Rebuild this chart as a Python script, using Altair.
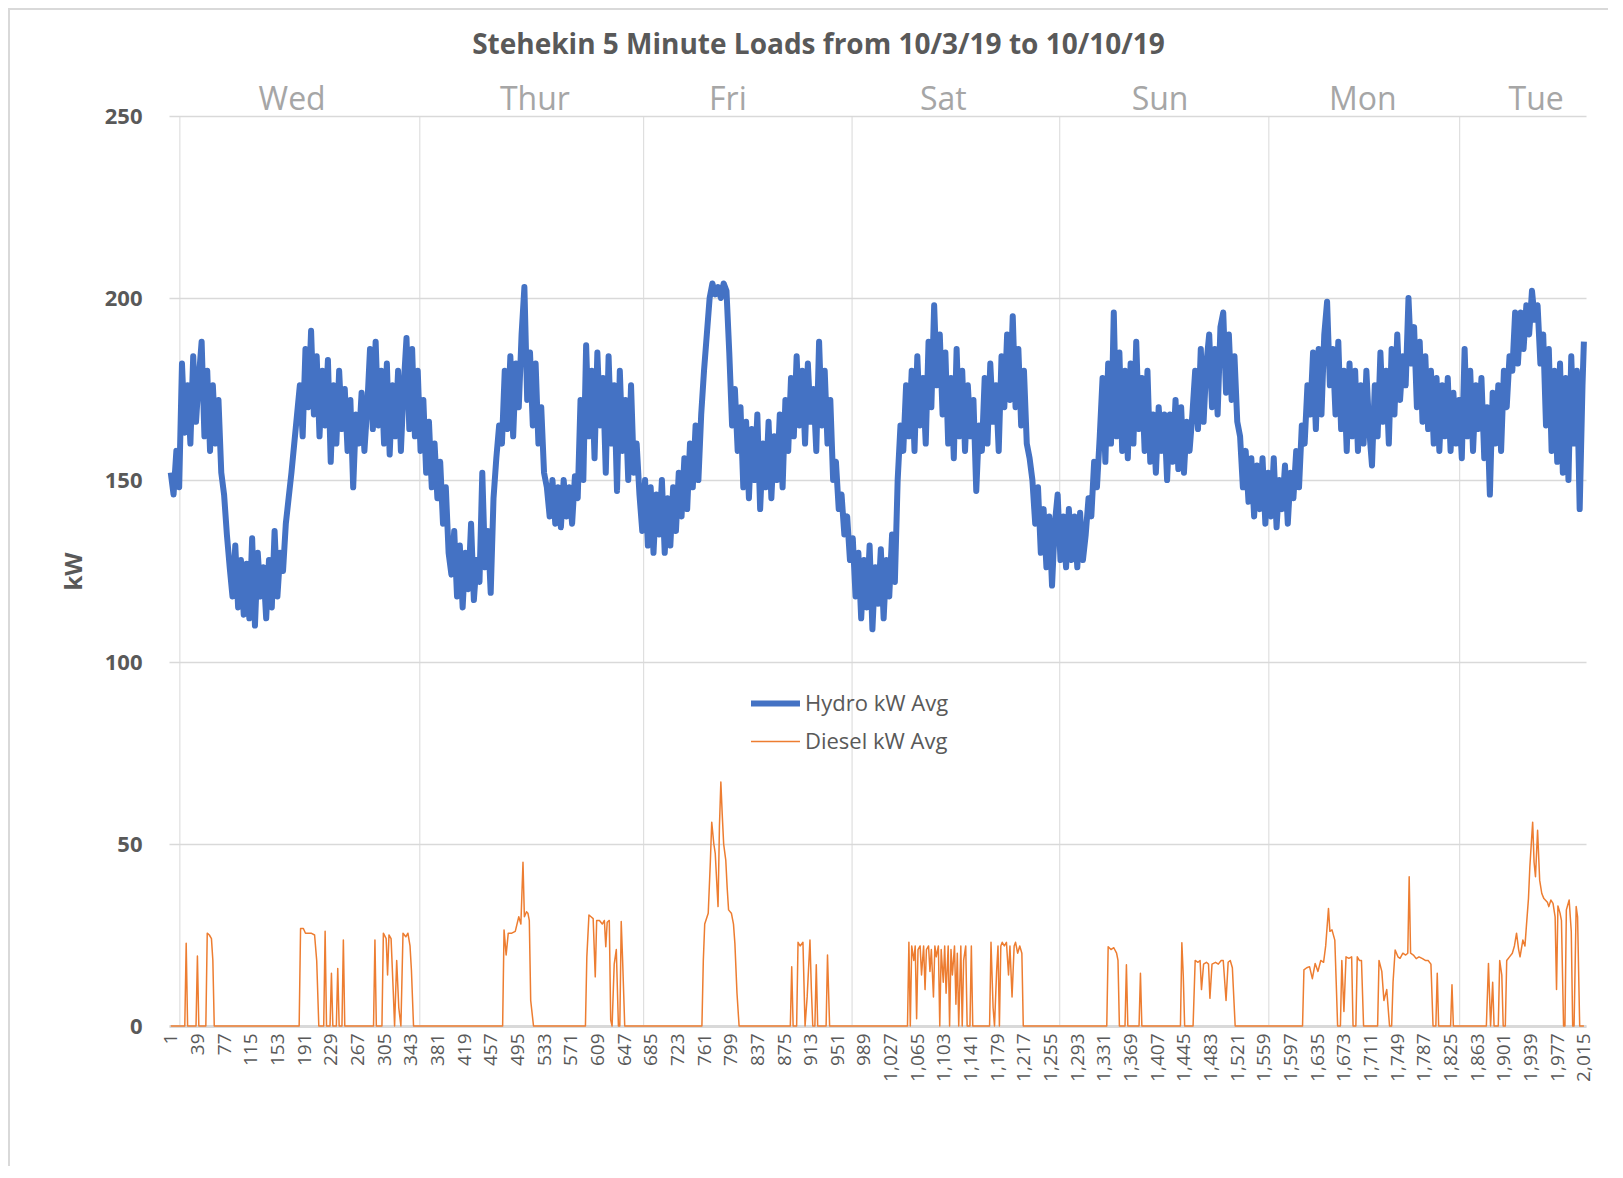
import altair as alt
import pandas as pd

title_text = "Stehekin 5 Minute Loads from 10/3/19 to 10/10/19"
series_names = ["Hydro kW Avg", "Diesel kW Avg"]
series_colors = ["#4472C4", "#ED7D31"]
series_widths = [6, 1.5]

hydro_idx = list(range(1, 2014, 4)) + [2015]
hydro_kw = [
    152, 146, 158, 148, 182, 163, 176, 160, 184, 166,
    178, 188, 162, 180, 158, 176, 160, 172, 152, 146,
    135, 126, 118, 132, 115, 128, 113, 127, 112, 134,
    110, 130, 118, 126, 112, 128, 115, 136, 118, 130,
    125, 138, 145, 152, 160, 168, 176, 162, 186, 170,
    191, 168, 184, 162, 180, 165, 183, 155, 176, 160,
    180, 164, 175, 158, 172, 148, 168, 160, 174, 158,
    170, 186, 164, 188, 165, 180, 160, 182, 157, 176,
    162, 180, 158, 176, 189, 164, 186, 162, 180, 158,
    172, 152, 166, 148, 160, 145, 155, 138, 148, 130,
    124, 136, 118, 132, 115, 130, 120, 138, 117, 128,
    122, 152, 126, 136, 119, 145, 156, 165, 160, 180,
    164, 184, 162, 182, 170, 190, 203, 172, 185, 165,
    182, 160, 170, 152, 148, 140, 150, 138, 148, 137,
    150, 140, 148, 138, 151, 145, 172, 150, 187, 162,
    180, 156, 185, 165, 178, 152, 184, 160, 176, 147,
    180, 158, 172, 150, 176, 152, 160, 146, 136, 150,
    132, 148, 130, 146, 135, 150, 130, 145, 132, 148,
    136, 152, 140, 156, 142, 160, 148, 165, 150, 168,
    180, 190, 200, 204, 201, 203, 200, 204, 202, 185,
    165, 175, 158, 170, 148, 166, 145, 164, 150, 168,
    142, 160, 148, 166, 145, 162, 150, 168, 148, 172,
    158, 178, 162, 184, 165, 180, 160, 182, 166, 175,
    158, 188, 165, 180, 160, 172, 150, 155, 142, 146,
    135, 140, 128, 134, 118, 130, 112, 128, 115, 132,
    109, 126, 116, 131, 112, 128, 118, 135, 122, 150,
    165, 158, 176, 162, 180, 158, 184, 165, 178, 160,
    188, 170, 198, 176, 190, 168, 185, 160, 178, 156,
    186, 162, 180, 158, 176, 162, 172, 147, 165, 158,
    178, 160, 182, 166, 176, 158, 184, 170, 190, 172,
    195, 170, 186, 165, 180, 160, 156, 150, 138, 148,
    130, 142, 126, 140, 121, 138, 146, 128, 140, 126,
    142, 128, 140, 126, 141, 128, 135, 145, 140, 155,
    148, 162, 178, 155, 182, 160, 196, 162, 185, 158,
    180, 156, 182, 160, 188, 164, 178, 158, 180, 155,
    168, 152, 170, 158, 168, 150, 168, 155, 172, 153,
    170, 152, 166, 158, 168, 180, 164, 186, 166, 182,
    190, 170, 186, 168, 192, 196, 174, 190, 172, 184,
    166, 162, 148, 158, 144, 156, 140, 154, 142, 156,
    138, 152, 140, 156, 137, 150, 142, 154, 138, 152,
    145, 158, 148, 165, 160, 176, 168, 185, 164, 186,
    168, 190, 199, 176, 186, 168, 188, 164, 180, 158,
    182, 162, 180, 158, 176, 160, 180, 164, 154, 176,
    162, 185, 166, 180, 160, 186, 168, 190, 172, 184,
    176, 200, 182, 192, 170, 188, 166, 184, 164, 180,
    160, 178, 158, 176, 162, 178, 158, 174, 160, 172,
    156, 186, 162, 180, 158, 176, 164, 178, 156, 170,
    146, 174, 160, 176, 158, 180, 170, 184, 180, 196,
    182, 196, 186, 198, 190, 202, 194, 198, 182, 190,
    165, 186, 158, 180, 155, 182, 152, 178, 150, 184,
    160, 180, 142, 176,
    188,
]

# Diesel: (interval, kW) break points
diesel_points = [
    (1, 0), (21, 0), (23, 22.7), (25, 0),
    (37, 0), (39, 19.2), (41, 0),
    (51, 0), (53, 25.5), (56, 25), (59, 24), (61, 18), (63, 0),
    (184, 0), (186, 26.8), (190, 26.8), (193, 25.5), (201, 25.5), (206, 25), (209, 18), (212, 0),
    (219, 0), (221, 26), (223, 0), (228, 0), (230, 14.5), (232, 0), (237, 0), (239, 15.8), (241, 0),
    (245, 0), (247, 23.6), (249, 0),
    (290, 0), (292, 23.6), (294, 0), (302, 0), (304, 25.5), (308, 24), (310, 14), (312, 25), (315, 24),
    (318, 10), (320, 0), (323, 18), (326, 5), (329, 0), (332, 25.5), (336, 24.5), (339, 25.5),
    (342, 22), (344, 15.4), (347, 0),
    (474, 0), (476, 26.4), (479, 19.5), (482, 25.5), (487, 25.5), (492, 26), (497, 30), (500, 28),
    (503, 45), (505, 30), (508, 31.4), (510, 31), (512, 29), (514, 7), (518, 0),
    (592, 0), (594, 19), (597, 30.5), (600, 30), (603, 29.5), (606, 13.5), (608, 29), (612, 29),
    (616, 28), (619, 29), (621, 21.8), (623, 28.5), (626, 29), (628, 1.6), (630, 0), (633, 17),
    (636, 21), (639, 0), (641, 0), (643, 28.7), (645, 18), (648, 0),
    (758, 0), (760, 18), (762, 28), (767, 31), (770, 45), (772, 56), (775, 50), (777, 47.4),
    (779, 40), (781, 32.8), (783, 55), (785, 67), (787, 58), (789, 50), (791, 47), (792, 45.6),
    (794, 38), (796, 31.9), (800, 31), (803, 28), (805, 22.7), (808, 9), (811, 0),
    (884, 0), (886, 16.3), (888, 0), (893, 0), (895, 23), (898, 22), (902, 23), (905, 0), (908, 8),
    (912, 23.6), (914, 10), (916, 0), (919, 0), (921, 16.8), (923, 0), (935, 0), (937, 19.5), (940, 0),
    (1051, 0), (1053, 23), (1055, 0), (1057, 22), (1060, 18), (1062, 22), (1064, 2), (1066, 21),
    (1069, 22), (1071, 14), (1074, 22), (1076, 10), (1078, 21), (1081, 22), (1083, 15), (1085, 21),
    (1088, 8), (1090, 22), (1092, 19), (1095, 22), (1097, 0), (1099, 21), (1102, 12), (1104, 22),
    (1106, 9), (1109, 22), (1111, 0), (1113, 21), (1115, 14), (1118, 22), (1120, 6), (1122, 20),
    (1124, 0), (1127, 22), (1129, 0), (1131, 18), (1134, 22), (1136, 0), (1140, 0), (1142, 22), (1144, 0),
    (1168, 0), (1170, 23), (1173, 5), (1175, 0), (1178, 15), (1180, 22), (1182, 0), (1184, 22),
    (1186, 23), (1189, 22), (1192, 23), (1195, 14), (1197, 22), (1200, 8), (1203, 22), (1205, 23),
    (1208, 20), (1211, 22), (1214, 20), (1216, 0),
    (1335, 0), (1337, 21.8), (1341, 21), (1345, 21.5), (1349, 20), (1351, 18), (1353, 0),
    (1361, 0), (1363, 16.8), (1365, 0),
    (1381, 0), (1383, 14.5), (1385, 0),
    (1440, 0), (1442, 22.9), (1444, 14), (1446, 0),
    (1458, 0), (1461, 18), (1465, 17.5), (1468, 18), (1470, 10), (1473, 17), (1477, 17.5), (1480, 17),
    (1482, 7.6), (1485, 17), (1490, 17.5), (1494, 17), (1498, 18), (1501, 18), (1505, 7), (1508, 17.5),
    (1511, 18), (1514, 16), (1518, 0),
    (1614, 0), (1616, 15.4), (1620, 16), (1624, 16.3), (1628, 13), (1632, 17.2), (1636, 15), (1640, 18),
    (1644, 17.5), (1647, 22), (1651, 32.3), (1653, 26), (1656, 26.4), (1660, 23.6), (1662, 12), (1664, 0),
    (1668, 0), (1670, 18), (1673, 4), (1676, 19), (1680, 18.6), (1684, 19), (1686, 0), (1690, 0),
    (1692, 19), (1695, 18), (1698, 18), (1701, 0),
    (1721, 0), (1723, 18), (1727, 15), (1730, 7), (1734, 10), (1738, 0), (1741, 0), (1743, 12),
    (1746, 20.9), (1750, 19), (1753, 18.6), (1757, 20), (1761, 19.5), (1764, 20), (1766, 41), (1768, 20),
    (1772, 19.5), (1776, 18.5), (1780, 19), (1785, 18.5), (1789, 18), (1793, 18), (1797, 17), (1800, 0),
    (1804, 0), (1806, 14.5), (1808, 0), (1825, 0), (1827, 11.3), (1829, 0),
    (1876, 0), (1879, 17.2), (1882, 0), (1885, 12), (1887, 0), (1893, 0), (1895, 18), (1898, 14),
    (1900, 0), (1903, 0), (1905, 18), (1909, 19), (1913, 20), (1916, 22), (1919, 25.5), (1922, 21),
    (1924, 19), (1928, 23.6), (1931, 22), (1933, 27.3), (1936, 35), (1938, 43.8), (1940, 50), (1942, 56),
    (1944, 45), (1946, 41), (1949, 53.8), (1952, 40), (1955, 36.4), (1958, 35), (1960, 34.6), (1963, 34),
    (1965, 32.8), (1968, 34.6), (1971, 33.7), (1974, 30), (1976, 10), (1978, 33), (1981, 31), (1983, 29),
    (1986, 0), (1988, 0), (1990, 31.9), (1994, 34.6), (1997, 26), (1999, 0), (2001, 0), (2004, 32.8),
    (2006, 30), (2009, 0), (2015, 0),
]

day_names = ["Wed", "Thur", "Fri", "Sat", "Sun", "Mon", "Tue"]
day_label_idx = [174, 520, 795, 1102, 1411, 1700, 1947]
day_line_idx = [14, 356, 675, 972, 1268, 1566, 1838]

x_ticks = [1, 39, 77, 115, 153, 191, 229, 267, 305, 343, 381, 419, 457, 495, 533, 571, 609,
           647, 685, 723, 761, 799, 837, 875, 913, 951, 989, 1027, 1065, 1103, 1141, 1179,
           1217, 1255, 1293, 1331, 1369, 1407, 1445, 1483, 1521, 1559, 1597, 1635, 1673,
           1711, 1749, 1787, 1825, 1863, 1901, 1939, 1977, 2015]
y_ticks = [0, 50, 100, 150, 200, 250]

df_h = pd.DataFrame({"idx": hydro_idx, "kW": hydro_kw, "series": series_names[0]})
df_d = pd.DataFrame({"idx": [p[0] for p in diesel_points],
                     "kW": [p[1] for p in diesel_points],
                     "series": series_names[1]})
lines_df = pd.concat([df_h, df_d], ignore_index=True)
days_df = pd.DataFrame({"idx": day_label_idx, "day": day_names})
day_lines_df = pd.DataFrame({"idx": day_line_idx})

W, H = 1417, 910
FONT = "Open Sans"
GRID = "#D9D9D9"

x_scale = alt.Scale(domain=[-1.5, 2018], nice=False, zero=False)
y_scale = alt.Scale(domain=[0, 250], nice=False)

x_axis = alt.Axis(
    values=x_ticks, format=",d", labelAngle=270, labelFont=FONT, labelFontSize=19,
    labelColor="#595959", labelPadding=7, labelOverlap=False, labelFlush=False,
    labelBound=False, grid=False, ticks=False, domainColor=GRID, domainWidth=3, title=None)
y_axis = alt.Axis(
    values=y_ticks, labelFont=FONT, labelFontSize=22, labelFontWeight="bold",
    labelColor="#595959", labelPadding=27, grid=True, gridColor=GRID, gridWidth=1.5,
    ticks=False, domain=False, title="kW", titleFont=FONT, titleFontSize=24,
    titleFontWeight="bold", titleColor="#595959", titlePadding=18)

legend = alt.Legend(
    title=None, orient="none", legendX=579, legendY=560, padding=0,
    symbolType="stroke", symbolSize=2400, rowPadding=-12, labelOffset=2,
    labelFont=FONT, labelFontSize=22, labelColor="#595959",
)

lines = alt.Chart(lines_df).mark_line(strokeJoin="round").encode(
    x=alt.X("idx:Q", scale=x_scale, axis=x_axis),
    y=alt.Y("kW:Q", scale=y_scale, axis=y_axis),
    color=alt.Color("series:N", scale=alt.Scale(domain=series_names, range=series_colors),
                    legend=legend),
    strokeWidth=alt.StrokeWidth("series:N", scale=alt.Scale(domain=series_names, range=series_widths),
                                legend=legend),
)

day_rules = alt.Chart(day_lines_df).mark_rule(color=GRID, strokeWidth=1).encode(
    x=alt.X("idx:Q", scale=x_scale, axis=x_axis),
    y=alt.Y(datum=250, scale=y_scale, axis=y_axis), y2=alt.datum(0),
)

day_text = alt.Chart(days_df).mark_text(
    font=FONT, fontSize=32, color="#A6A6A6", baseline="middle", align="center"
).encode(
    x=alt.X("idx:Q", scale=x_scale, axis=x_axis),
    y=alt.value(-16),
    text="day:N",
)

frame_df = pd.DataFrame({"a": [0]})
left_border = alt.Chart(frame_df).mark_rule(color=GRID, strokeWidth=2).encode(
    x=alt.value(-160), y=alt.value(-107), y2=alt.value(1050))
top_border = alt.Chart(frame_df).mark_rule(color=GRID, strokeWidth=2).encode(
    x=alt.value(-161), x2=alt.value(1440), y=alt.value(-107))

chart = alt.layer(day_rules, lines, day_text, left_border, top_border).properties(
    width=W, height=H,
    title=alt.TitleParams(title_text, font=FONT, fontSize=28, fontWeight="bold",
                          color="#595959", anchor="middle", dx=-59, offset=-52),
    autosize=alt.AutoSizeParams(type="none"),
    padding={"left": 161, "top": 108, "right": 22, "bottom": 140},
).configure_view(strokeWidth=0)

chart.save("out.html", embed_options={"renderer": "svg", "actions": False})
